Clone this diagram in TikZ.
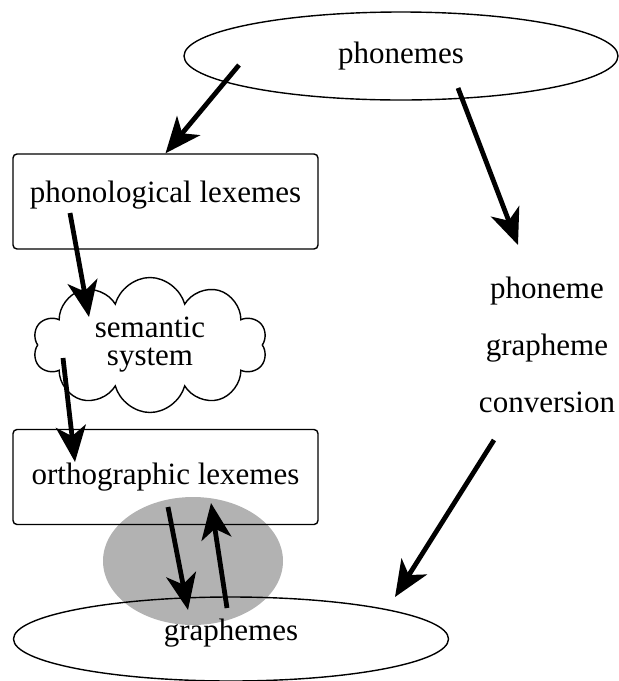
\documentclass[tikz,border=0pt]{standalone}
\usepackage{fontspec}
\setmainfont{Liberation Serif}
\usetikzlibrary{arrows.meta,positioning,shapes.geometric,shapes.symbols}

\begin{document}
\begin{tikzpicture}[
      x=0.5pt, y=-0.5pt,
      every node/.style={font=\fontsize{15.5}{14}\selectfont},
      box/.style={draw, rounded corners=2pt, line width=0.7pt,
                  minimum width=152.5pt, minimum height=47.5pt},
      oval/.style={draw, ellipse, line width=0.7pt, inner sep=0pt},
      ar/.style={-{Stealth[length=18pt, width=15pt, inset=5pt]}, line width=2.4pt}
    ]
    \useasboundingbox (0,0) rectangle (619,681);
    \node[ellipse, fill=black!30, minimum width=90pt, minimum height=64pt] (hub) at (193,561) {};
    \node[oval, minimum width=217pt, minimum height=44pt] (phon) at (401,56) {phonemes};
    \node[box, text depth=10pt] (plex) at (165.5,201.5) {phonological lexemes};
    \node[draw, cloud, cloud puffs=10, cloud ignores aspect, line width=0.7pt,
          align=center, inner sep=0pt,
          minimum width=117pt, minimum height=67.5pt] (sem) at (150,345) {semantic\\system};
    \node[box] (olex) at (165.5,477) {orthographic lexemes};
    \node[oval, text depth=9.5pt, minimum width=217.5pt, minimum height=42pt] (graph) at (231,639) {graphemes};
    \node[align=center, font=\fontsize{15.5}{28.5}\selectfont] (pgc) at (547,345) {phoneme\\grapheme\\conversion};
    % connector ends
    \coordinate (c1) at (239,65);
    \coordinate (c2) at (458,88);
    \coordinate (c3) at (518,245);
    \coordinate (c4) at (70,213);
    \coordinate (c5) at (89,317);
    \coordinate (c6) at (63,358);
    \coordinate (c7) at (75,462);
    \coordinate (c8) at (168,507);
    \coordinate (c9) at (188,610);
    \coordinate (c10) at (227,608);
    \coordinate (c11) at (211,503);
    \coordinate (c12) at (494,440);
    \coordinate (c13) at (395,597);
    \draw[ar] (c1) -- (plex.north);
    \draw[ar] (c2) -- (c3);
    \draw[ar] (c4) -- (c5);
    \draw[ar] (c6) -- (c7);
    \draw[ar] (c8) -- (c9);
    \draw[ar] (c10) -- (c11);
    \draw[ar] (c12) -- (c13);
  \end{tikzpicture}
\end{document}
